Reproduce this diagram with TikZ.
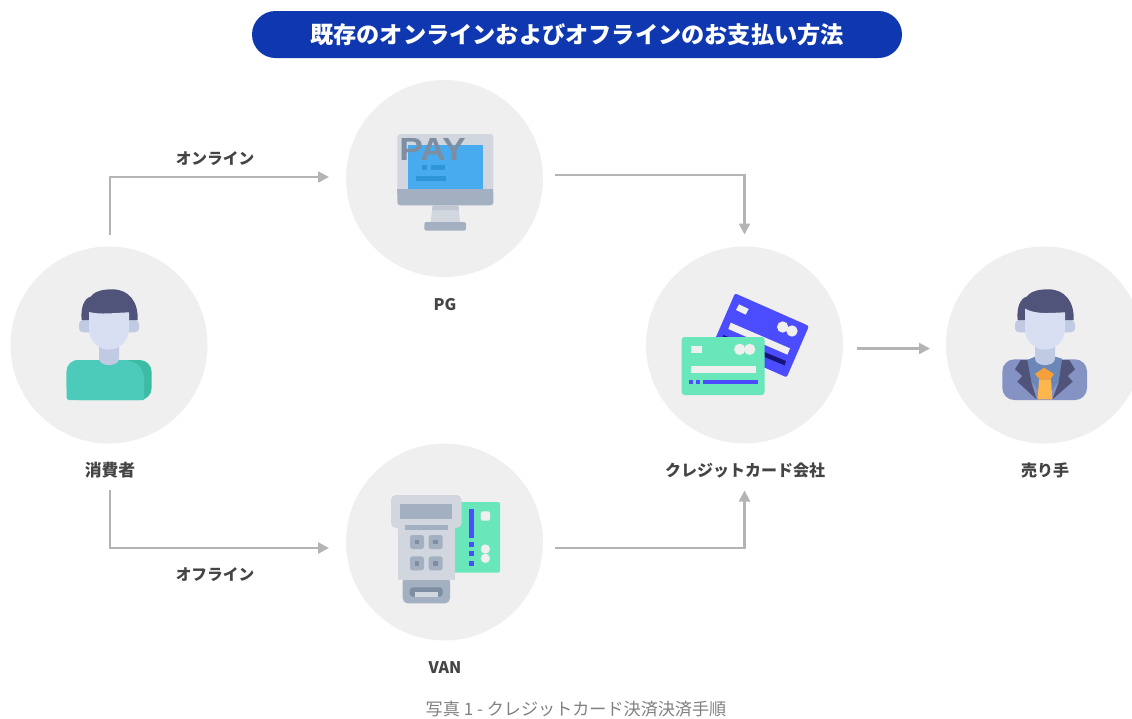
\documentclass[tikz,border=0pt]{standalone}
\usepackage{fontspec}
\setmainfont{Noto Sans CJK JP}
\newfontfamily\payfont{Liberation Sans}
\usetikzlibrary{arrows.meta}
\definecolor{circ}{HTML}{EFEFEF}
\definecolor{pill}{HTML}{0F37B0}
\definecolor{conn}{HTML}{B4B4B4}
\definecolor{lbl}{HTML}{444444}
\definecolor{cap}{HTML}{808080}
\definecolor{hair}{HTML}{50547A}
\definecolor{face}{HTML}{D8DFF3}
\definecolor{ear}{HTML}{C0CAE3}
\definecolor{teal}{HTML}{4CCABA}
\definecolor{tealdk}{HTML}{3DBCA5}
\definecolor{jacket}{HTML}{8592C4}
\definecolor{shirt}{HTML}{6A87B8}
\definecolor{tie}{HTML}{FFB74D}
\definecolor{knot}{HTML}{F5A03A}
\definecolor{gl}{HTML}{D1D6DF}
\definecolor{gm}{HTML}{A3B0C1}
\definecolor{gd}{HTML}{7D8EA3}
\definecolor{gs}{HTML}{C0C7D2}
\definecolor{scr}{HTML}{48ABF0}
\definecolor{scrd}{HTML}{2E96D8}
\definecolor{mint}{HTML}{69E6BA}
\definecolor{vio}{HTML}{4C4CFF}
\definecolor{navy}{HTML}{14147A}
\tikzset{
  disc/.style={circle,fill=circ,minimum size=197pt,inner sep=0pt,outer sep=0pt},
  lab/.style={text=lbl,font=\fontsize{16}{18}\selectfont\bfseries,inner sep=0pt},
  flow/.style={draw=conn,line width=2.4pt,-{Triangle[length=11pt,width=11pt]}},
  icon/.style={x=0.33333pt,y=-0.33333pt},
}
\newcommand{\headparts}[2]{%
  % ears
  \fill[ear,rounded corners=4pt] (#1-60,120) rectangle (#1+120,157);
  % neck
  \fill[ear] (#1,190) -- (#1+60,190) -- (#1+60,235) .. controls (#1+60,262) and (#1,262) .. (#1,235) -- cycle;
  % hair
  \fill[hair] (#1-52,120) .. controls (#1-56,85) and (#1-45,55) .. (#1-25,50)
     .. controls (#1-10,30) and (#1+20,28) .. (#1+40,28)
     .. controls (#1+90,28) and (#1+118,65) .. (#1+116,120) -- cycle;
  % face
  \fill[face] (#1-30,#2) .. controls (#1+5,105) and (#1+50,98) .. (#1+90,97)
     -- (#1+90,145) .. controls (#1+90,185) and (#1+60,209) .. (#1+30,209)
     .. controls (#1,209) and (#1-30,185) .. (#1-30,145) -- cycle;
}
\begin{document}
\begin{tikzpicture}[x=1pt,y=-1pt]
\useasboundingbox (0,0) rectangle (1132,718);
\clip (0,0) rectangle (1132,718);
% title
\node[fill=pill,rounded corners=23.5pt,minimum width=650pt,minimum height=47pt,inner sep=0pt,text=white,font=\fontsize{23.2}{26}\selectfont\bfseries] (title) at (577,34.5) {\raisebox{-1pt}{既存のオンラインおよびオフラインのお支払い方法}};
% circles
\node[disc] (cons) at (109,345) {};
\node[disc] (pg) at (444.5,178.5) {};
\node[disc] (van) at (444.5,542) {};
\node[disc] (card) at (744.5,345) {};
\node[disc] (sell) at (1044.5,345) {};
% labels
\node[lab,font=\fontsize{16.8}{18}\selectfont\bfseries] (lcons) at (110,470) {消費者};
\node[lab] (lpg) at (445,304.5) {PG};
\node[lab] (lvan) at (445,667.5) {VAN};
\node[lab] (lcard) at (745,470) {クレジットカード会社};
\node[lab] (lsell) at (1045,470) {売り手};
\node[lab,font=\fontsize{15.7}{18}\selectfont\bfseries] (lon) at (215,159) {オンライン};
\node[lab,font=\fontsize{15.7}{18}\selectfont\bfseries] (loff) at (215,575) {オフライン};
\node[text=cap,font=\fontsize{17.1}{20}\selectfont,inner sep=0pt] (capt) at (576,709) {写真 1 - クレジットカード決済決済手順};
% connectors
\draw[flow,shorten <=12pt,shorten >=17pt] ([xshift=1pt]cons.north) |- ([yshift=1.5pt]pg.west);
\draw[flow,shorten <=46.5pt,shorten >=17pt] ([xshift=1pt]cons.south) |- ([yshift=-6pt]van.west);
\draw[flow,shorten <=11.5pt,shorten >=12pt] ([yshift=3.5pt]pg.east) -| (card.north);
\draw[flow,shorten <=11.5pt,shorten >=47pt] ([yshift=-6pt]van.east) -| (card.south);
\draw[flow,shorten <=14pt,shorten >=16pt] ([yshift=-3.5pt]card.east) -- ([yshift=-3.5pt]sell.west);
% consumer icon
\begin{scope}[shift={(55,280)},icon]
  \fill[tealdk,rounded corners=12pt] (35,360) -- (35,240) -- (290,240) -- (290,360) -- cycle;
  \fill[teal] (35,352) -- (35,275) .. controls (35,252) and (50,240) .. (72,240)
     -- (205,240) .. controls (245,240) and (267,265) .. (267,300) -- (267,360) -- (43,360) .. controls (38,360) and (35,357) .. (35,352) -- cycle;
  \headparts{132}{96}
\end{scope}
% seller icon
\begin{scope}[shift={(990,280)},icon]
  \fill[jacket,rounded corners=12pt] (37,360) -- (37,238) -- (291,238) -- (291,360) -- cycle;
  \fill[shirt] (112,240) -- (135,230) -- (195,230) -- (216,236) -- (205,305) -- (165,358) -- (125,305) -- cycle;
  \headparts{135}{86}
  \fill[hair] (92,240) -- (112,240) -- (125,310) -- (140,358) -- (82,305) -- (97,288) -- (75,268) -- cycle;
  \fill[hair] (216,240) -- (238,240) -- (255,268) -- (233,288) -- (248,305) -- (187,358) -- (205,310) -- cycle;
  \fill[tie] (147,298) -- (183,298) -- (187,358) -- (143,358) -- cycle;
  \fill[knot] (135,282) -- (162,263) -- (192,282) -- (180,299) -- (150,299) -- cycle;
\end{scope}
% monitor icon
\begin{scope}[shift={(340,80)},icon]
  \fill[gl,rounded corners=3pt] (172,162) rectangle (460,340);
  \fill[scr] (204,195) rectangle (428,326);
  \fill[gm,rounded corners=3pt] (172,330) -- (172,376) -- (460,376) -- (460,330) -- cycle;
  \fill[gm] (172,326) rectangle (460,340);
  \fill[scrd] (246,254) rectangle (262,270);
  \fill[scrd] (272,254) rectangle (315,270);
  \fill[scrd] (228,288) rectangle (318,303);
  \fill[gl] (278,376) -- (355,376) -- (360,426) -- (272,426) -- cycle;
  \fill[gs] (278,376) -- (355,376) -- (356.5,390) -- (276.5,390) -- cycle;
  \fill[gm,rounded corners=2pt] (253,426) rectangle (378,452);
  \node[text=gd,inner sep=0pt,anchor=center,xscale=1.1,font=\payfont\bfseries\fontsize{32}{33}\selectfont] (pay) at (278,208) {PAY};
\end{scope}
% terminal icon
\begin{scope}[shift={(340,470)},icon]
  \fill[mint,rounded corners=2pt] (340,96) rectangle (480,308);
  \fill[vio] (387,117) rectangle (402,203);
  \fill[vio] (387,216) rectangle (402,231);
  \fill[vio] (387,243) rectangle (402,258);
  \fill[vio] (387,273) rectangle (402,288);
  \fill[circ,rounded corners=2pt] (422,124) rectangle (450,152);
  \fill[circ] (436,237) circle[radius=14];
  \fill[circ] (436,265) circle[radius=14];
  \fill[gm,rounded corners=5pt] (188,320) rectangle (330,400);
  \fill[gd,rounded corners=3pt] (209,352) -- (308,352) -- (308,380) -- (209,380) -- cycle;
  \fill[gl] (224,366) rectangle (294,380);
  \fill[gl] (174,150) rectangle (345,330);
  \fill[gl,rounded corners=5pt] (153,75) rectangle (365,174);
  \fill[gm] (180,102) rectangle (336,147);
  \fill[gm] (195,165) rectangle (324,180);
  \foreach \kx/\ky in {210/195,266/195,210/259,266/259}{
    \fill[gm,rounded corners=2.5pt] (\kx,\ky) rectangle ++(42,42);
    \fill[gd] (\kx+14,\ky+14) rectangle ++(14,14);
  }
\end{scope}
% cards icon
\begin{scope}[shift={(660,280)},icon]
  \fill[vio,rounded corners=2pt] (225,40) -- (447,138) -- (380,292) -- (158,194) -- cycle;
  \fill[circ] (237,73) -- (266,87) -- (257,104) -- (228,90) -- cycle;
  \fill[navy] (190,165) -- (378,243) -- (374,256) -- (186,178) -- cycle;
  \fill[circ] (212,128) -- (390,205) -- (382,224) -- (205,147) -- cycle;
  \fill[circ] (368,141) circle[radius=17];
  \fill[circ] (396,153) circle[radius=17];
  \fill[mint,rounded corners=3pt] (65,171) rectangle (314,345);
  \fill[circ] (92,198) rectangle (125,220);
  \fill[circ] (239,208) circle[radius=17];
  \fill[circ] (269,208) circle[radius=17];
  \fill[circ] (92,258) rectangle (288,280);
  \fill[vio] (87,300) rectangle (100,312);
  \fill[vio] (108,300) rectangle (121,312);
  \fill[vio] (129,300) rectangle (295,312);
\end{scope}
\end{tikzpicture}
\end{document}
